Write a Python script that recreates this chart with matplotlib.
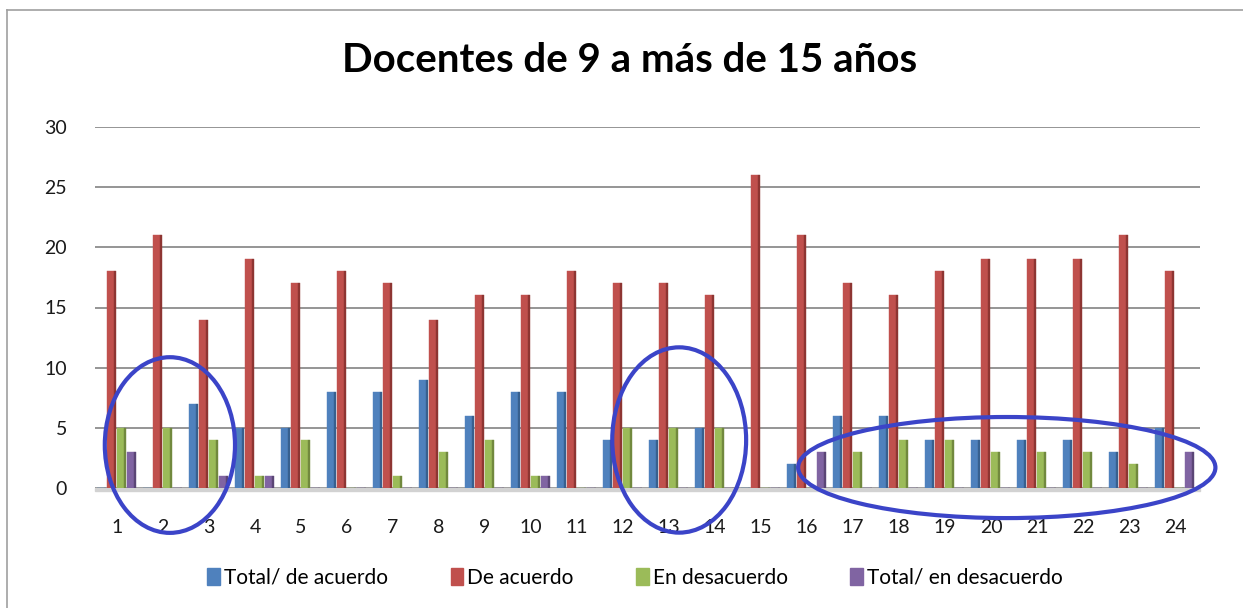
import matplotlib
matplotlib.use("Agg")
import matplotlib.pyplot as plt
import numpy as np
from matplotlib.patches import Ellipse
from matplotlib.lines import Line2D

categories = [str(i) for i in range(1, 25)]
total_acuerdo = [0, 0, 7, 5, 5, 8, 8, 9, 6, 8, 8, 4, 4, 5, 0, 2, 6, 6, 4, 4, 4, 4, 3, 5]
de_acuerdo = [18, 21, 14, 19, 17, 18, 17, 14, 16, 16, 18, 17, 17, 16, 26, 21, 17, 16, 18, 19, 19, 19, 21, 18]
en_desacuerdo = [5, 5, 4, 1, 4, 0, 1, 3, 4, 1, 0, 5, 5, 5, 0, 0, 3, 4, 4, 3, 3, 3, 2, 0]
total_desacuerdo = [3, 0, 1, 1, 0, 0, 0, 0, 0, 1, 0, 0, 0, 0, 0, 3, 0, 0, 0, 0, 0, 0, 0, 3]
series_names = ["Total/ de acuerdo", "De acuerdo", "En desacuerdo", "Total/ en desacuerdo"]
yticks = [0, 5, 10, 15, 20, 25, 30]
title = "Docentes de 9 a más de 15 años"

colors = ["#4F81BD", "#C0504D", "#9BBB59", "#8064A2"]
dark = ["#37608F", "#8E3532", "#71893E", "#5B4676"]

plt.rcParams['font.family'] = ['Lato', 'DejaVu Sans']

fig = plt.figure(figsize=(12.43, 6.08), dpi=100)
ax = fig.add_axes([95/1243, 1-488/608, (1200-95)/1243, (488-127)/608])

x = np.arange(len(categories))
step = 0.215
w_front = 0.15
w_side = 0.045
series = [total_acuerdo, de_acuerdo, en_desacuerdo, total_desacuerdo]
for i, (vals, c, d, name) in enumerate(zip(series, colors, dark, series_names)):
    pos = x + (i - 1.5) * step - 0.03
    ax.bar(pos, vals, width=w_front, color=c, align='center', zorder=3, label=name,
           edgecolor=c, linewidth=0.3)
    ax.bar(pos + w_front/2 + w_side/2, vals, width=w_side, color=d, zorder=3,
           edgecolor=d, linewidth=0.3)

# floor
ax.axhspan(-0.22, 0, color="#D2D2D2", zorder=2, clip_on=False)

ax.set_ylim(0, 30)
ax.set_xlim(-0.478, 23.54)
ax.set_yticks(yticks)
ax.set_yticklabels([str(t) for t in yticks])
ax.set_xticks(x)
ax.set_xticklabels(categories)
ax.tick_params(axis='both', length=0, labelsize=14, colors="#1a1a1a")
ax.tick_params(axis='x', pad=22)
ax.tick_params(axis='y', pad=20)
ax.grid(axis='y', color="#8C8C8C", linewidth=1.3, zorder=1)
for s in ax.spines.values():
    s.set_visible(False)

# annotation ellipses
ell_color = "#3B44C8"
for (cx, cy, ew, eh) in [(1.15, 3.57, 2.83, 14.6), (12.22, 3.99, 2.91, 15.4), (19.34, 1.70, 9.07, 8.4)]:
    ax.add_patch(Ellipse((cx, cy), ew, eh, fill=False, edgecolor=ell_color, linewidth=3,
                         zorder=5, clip_on=False))

fig.suptitle(title, x=630/1243, y=1-60/608, va='center', fontsize=29, fontweight='bold')

handles = [plt.Rectangle((0, 0), 1, 1, color=c) for c in colors]
fig.legend(handles, series_names, loc='center', bbox_to_anchor=(635/1243, 1-578/608),
           ncol=4, frameon=False, fontsize=15, handlelength=0.6, handleheight=0.9,
           handletextpad=0.2, columnspacing=3.0)

# chart area border
fig.add_artist(Line2D([7/1243, 7/1243], [0, 1-10/608], color="#A0A0A0", linewidth=1.2))
fig.add_artist(Line2D([7/1243, 1], [1-10/608, 1-10/608], color="#A0A0A0", linewidth=1.2))

fig.savefig("out.png", dpi=100)
